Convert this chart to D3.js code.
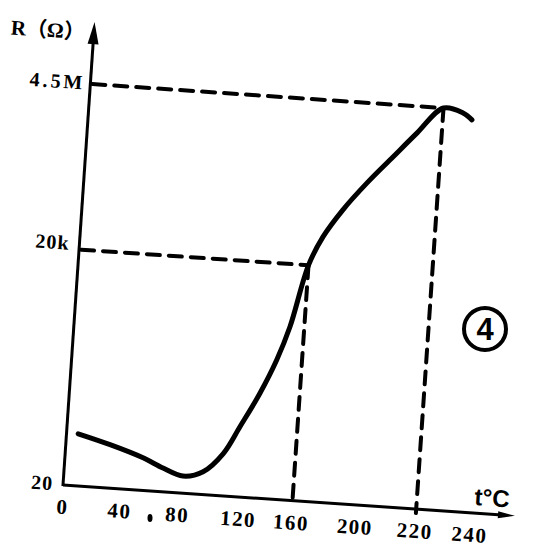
<!DOCTYPE html>
<html>
<head>
<meta charset="utf-8">
<script src="https://cdn.jsdelivr.net/npm/d3@7"></script>
<style>
  html, body { margin: 0; padding: 0; background: #fff; }
  svg { display: block; }
</style>
</head>
<body>
<div id="chart"></div>
<script>
// ---------- data ----------
const xTickValues = [0, 40, 80, 120, 160, 200, 220, 240];
const xTickLabels = ["0", "40", "80", "120", "160", "200", "220", "240"];
const yTickValues = [20, 20000, 4500000];
const yTickLabels = ["20", "20k", "4.5M"];
const temps  = [7.5, 30.8, 53.8, 68, 82, 95, 107.4, 117.1, 130, 140.9, 149.2, 160, 167.8, 179.1, 193, 204.3, 211.8, 220, 227.2, 230.6];
const resist = [92, 71, 52, 40, 33, 39, 69, 156, 431, 1176, 3190, 20000, 51900, 131000, 332000, 818000, 1890000, 4500000, 4000000, 3260000];
const refTemps = [160, 220];
const refResist = [20000, 4500000];
const xTitle = "t°C";
const yTitle = "R（Ω）";
const figLabel = "4";

// ---------- layout ----------
const W = 540, H = 559;
const svg = d3.select("#chart").append("svg")
  .attr("width", W).attr("height", H)
  .style("background", "#fff");

// the scanned figure is tilted slightly clockwise
const g = svg.append("g").attr("transform", "translate(63,485) rotate(3.9)");

const x = d3.scaleLinear()
  .domain(xTickValues)
  .range([1, 58, 116, 177, 230, 294, 354, 409]);

const y = d3.scaleLog()
  .domain(yTickValues)
  .range([0, -236, -402]);

const ink = "#000";

// reference dashed lines
const refs = refTemps.map((t, i) => ({ t, r: refResist[i] }));
g.selectAll("line.href").data(refs).join("line")
  .attr("class", "href")
  .attr("x1", 2).attr("x2", d => x(d.t))
  .attr("y1", d => y(d.r)).attr("y2", d => y(d.r))
  .attr("stroke", ink).attr("stroke-width", 4)
  .attr("stroke-dasharray", "13,9").attr("stroke-linecap", "round");
g.selectAll("line.vref").data(refs).join("line")
  .attr("class", "vref")
  .attr("x1", d => x(d.t)).attr("x2", d => x(d.t))
  .attr("y1", d => y(d.r)).attr("y2", 4)
  .attr("stroke", ink).attr("stroke-width", 4)
  .attr("stroke-dasharray", "13,9").attr("stroke-linecap", "round");

// axes
g.append("line").attr("x1", 0).attr("y1", 0).attr("x2", 440).attr("y2", 0)
  .attr("stroke", ink).attr("stroke-width", 3);
g.append("path").attr("d", "M436,-3.5 L453,0 L436,3.5 Z").attr("fill", ink);
g.append("line").attr("x1", 0).attr("y1", 1).attr("x2", 0).attr("y2", -446)
  .attr("stroke", ink).attr("stroke-width", 3);
g.append("path").attr("d", "M-5.5,-442 L0,-464 L5.5,-442 Z").attr("fill", ink);

// x tick labels
g.selectAll("text.xt").data(xTickValues).join("text")
  .attr("class", "xt")
  .attr("x", d => x(d)).attr("y", 29)
  .attr("text-anchor", "middle")
  .attr("font-family", "Liberation Serif, serif")
  .attr("font-weight", "bold").attr("font-size", 21)
  .attr("letter-spacing", 1.5)
  .attr("fill", ink)
  .text((d, i) => xTickLabels[i]);

// y tick labels
g.selectAll("text.yt").data(yTickValues).join("text")
  .attr("class", "yt")
  .attr("x", (d, i) => i === 2 ? -5 : -10)
  .attr("y", (d, i) => y(d) + (i === 1 ? 1 : 6))
  .attr("text-anchor", "end")
  .attr("font-family", "Liberation Serif, serif")
  .attr("font-weight", "bold").attr("font-size", 20)
  .attr("letter-spacing", (d, i) => i === 2 ? 3 : 1)
  .attr("fill", ink)
  .text((d, i) => yTickLabels[i]);

// axis titles
g.append("text").attr("x", 429).attr("y", -8)
  .attr("text-anchor", "middle")
  .attr("font-family", "Liberation Sans, Arial, sans-serif")
  .attr("font-weight", "bold").attr("font-size", 24)
  .attr("fill", ink).text(xTitle);
g.append("text").attr("x", -46).attr("y", -446)
  .attr("text-anchor", "middle")
  .attr("font-family", "Liberation Serif, 'Noto Sans CJK SC', serif")
  .attr("font-weight", "bold").attr("font-size", 21)
  .attr("fill", ink).text(yTitle);

// curve
const pts = temps.map((t, i) => ({ t, r: resist[i] }));
const line = d3.line()
  .x(d => x(d.t)).y(d => y(d.r))
  .curve(d3.curveCatmullRom.alpha(0.5));
g.append("path").datum(pts)
  .attr("d", line)
  .attr("fill", "none").attr("stroke", ink)
  .attr("stroke-width", 5).attr("stroke-linecap", "round").attr("stroke-linejoin", "round");

// stray scan mark near "80"
svg.append("ellipse").attr("cx", 150).attr("cy", 518).attr("rx", 2.5).attr("ry", 4).attr("fill", ink);

// circled figure number
const badge = svg.append("g").attr("transform", "translate(485,329)");
badge.append("circle").attr("r", 21).attr("fill", "none").attr("stroke", ink).attr("stroke-width", 4);
badge.append("text").attr("y", 11).attr("text-anchor", "middle")
  .attr("font-family", "Liberation Sans, Arial, sans-serif")
  .attr("font-weight", "bold").attr("font-size", 31)
  .attr("fill", ink).text(figLabel);
</script>
</body>
</html>
